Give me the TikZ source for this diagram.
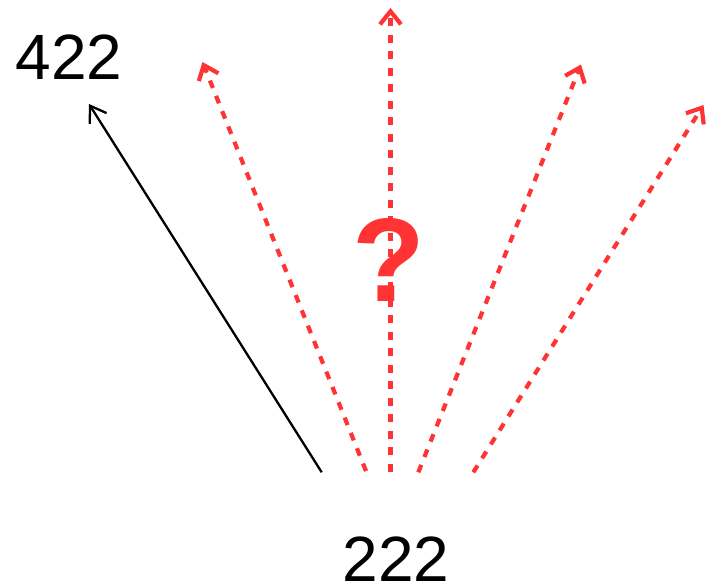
\documentclass[tikz,border=0pt]{standalone}
\usepackage{fontspec}
\setmainfont{Liberation Sans}
\usetikzlibrary{arrows.meta}
\definecolor{qred}{RGB}{255,51,51}
\tikzset{
  blackarrow/.style={draw=black, line width=2.3pt, -{Straight Barb[length=15pt,width=20pt]}},
  redarrow/.style={draw=qred, line width=4.2pt, dash pattern=on 8pt off 8.5pt,
     -{Straight Barb[length=13pt,width=21pt,line width=4.2pt]}},
  bigtext/.style={inner sep=0pt, anchor=base, font=\fontsize{64}{64}\selectfont},
}
\begin{document}
\begin{tikzpicture}[x=1pt,y=-1pt]
\useasboundingbox (0,0) rectangle (713,585);
% start and end points
\coordinate (s0) at (321.7,472.3);
\coordinate (e0) at (89,104);
\coordinate (s1) at (366,471);
\coordinate (e1) at (202.5,62);
\coordinate (s2) at (390.5,472);
\coordinate (e2) at (390.5,8);
\coordinate (s3) at (418.3,472.3);
\coordinate (e3) at (581,64.5);
\coordinate (s4) at (473.3,472.3);
\coordinate (e4) at (703.5,105);
% texts
\node[bigtext] (t422) at (69,79.5) {422};
\node[bigtext] (t222) at (396,581) {222};
\node[inner sep=0pt, anchor=base, text=qred, font=\bfseries\fontsize{119}{119}\selectfont] (q) at (389,302) {?};
% arrows
\draw[blackarrow] (s0) -- (e0);
\draw[redarrow] (s1) -- (e1);
\draw[redarrow] (s2) -- (e2);
\draw[redarrow] (s3) -- (e3);
\draw[redarrow] (s4) -- (e4);
\end{tikzpicture}
\end{document}
